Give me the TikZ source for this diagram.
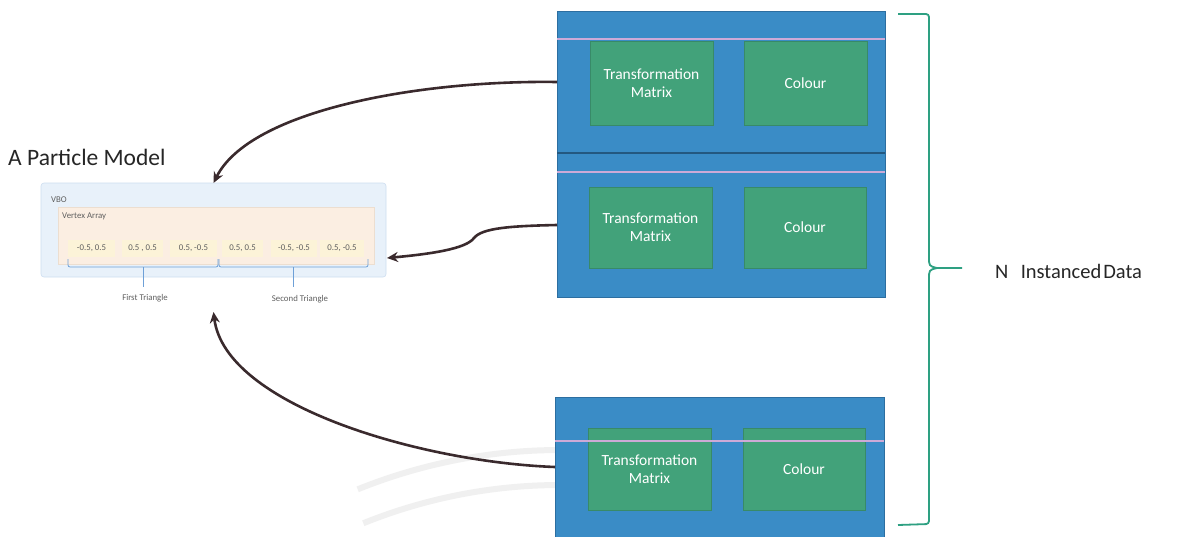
\documentclass[tikz,border=0pt]{standalone}
\usepackage{fontspec}
\setmainfont{Carlito}
\usetikzlibrary{arrows.meta,calc}

\definecolor{blkblue}{RGB}{58,140,198}
\definecolor{blkedge}{RGB}{44,110,160}
\definecolor{cellgreen}{RGB}{66,162,122}
\definecolor{stripe}{RGB}{205,170,215}
\definecolor{vboFill}{RGB}{232,241,250}
\definecolor{vboEdge}{RGB}{205,222,240}
\definecolor{arrFill}{RGB}{251,238,226}
\definecolor{arrEdge}{RGB}{236,222,208}
\definecolor{valFill}{RGB}{252,243,216}
\definecolor{smallText}{RGB}{95,95,95}
\definecolor{braceBlue}{RGB}{110,160,215}
\definecolor{braceTeal}{RGB}{46,160,130}
\definecolor{linkDark}{RGB}{58,42,45}

\tikzset{
  blueblk/.style={fill=blkblue, draw=blkedge, line width=0.6pt, inner sep=0pt, outer sep=0pt, anchor=north west},
  greenbox/.style={fill=cellgreen, draw=cellgreen!85!black, line width=0.4pt, inner sep=0pt, outer sep=0pt,
    anchor=north west, text=white, align=center, font=\fontsize{15.5}{18}\selectfont},
  valcell/.style={fill=valFill, inner sep=0pt, outer sep=0pt, anchor=north west,
    font=\fontsize{8.8}{10}\selectfont, text=smallText},
  tiny/.style={font=\fontsize{8.8}{10}\selectfont, text=smallText, inner sep=0pt},
  link/.style={draw=linkDark, line width=2.6pt, -{Stealth[length=11pt,width=10pt]}},
  stripeline/.style={draw=stripe, line width=1.2pt},
  emblemarc/.style={draw=gray!12, line width=6pt}
}

\begin{document}
\begin{tikzpicture}[x=1pt,y=-1pt]
\useasboundingbox[fill=white] (0,0) rectangle (1184,536);

% faint round emblem in the background
\begin{scope}
  \clip (0,0) rectangle (1184,536);
  \draw[emblemarc] (560,990) ++(-112:540) arc[start angle=-112, end angle=-68, radius=540];
  \draw[emblemarc] (560,1010) ++(-112:525) arc[start angle=-112, end angle=-68, radius=525];
\end{scope}

% ---- particle model (VBO with vertex array) ----
\node[anchor=west, inner sep=0pt, font=\fontsize{23.5}{27}\selectfont, text=black!85] (title) at (8,157) {A Particle Model};

\node[fill=vboFill, draw=vboEdge, rounded corners=3pt, line width=0.6pt, inner sep=0pt, outer sep=0pt,
      minimum width=345pt, minimum height=94pt, anchor=north west] (vbo) at (41,183) {};
\node[tiny, anchor=west] (vbolbl) at (51,200) {VBO};
\node[fill=arrFill, draw=arrEdge, line width=0.5pt, inner sep=0pt, outer sep=0pt,
      minimum width=316pt, minimum height=57pt, anchor=north west] (varr) at (58,207) {};
\node[tiny, anchor=west] (varrlbl) at (62,216) {Vertex Array};

\node[valcell, minimum width=47pt, minimum height=17pt] (v1) at (68,240)  {-0.5, 0.5};
\node[valcell, minimum width=41pt, minimum height=17pt] (v2) at (122,240) {0.5 , 0.5};
\node[valcell, minimum width=47pt, minimum height=17pt] (v3) at (170,240) {0.5, -0.5};
\node[valcell, minimum width=41pt, minimum height=17pt] (v4) at (222,240) {0.5, 0.5};
\node[valcell, minimum width=46pt, minimum height=17pt] (v5) at (271,240) {-0.5, -0.5};
\node[valcell, minimum width=44pt, minimum height=17pt] (v6) at (320,240) {0.5, -0.5};

% triangle brackets
\draw[braceBlue, line width=0.8pt, rounded corners=2pt] (68,259) -- (68,267) -- (218,267) -- (218,259);
\draw[braceBlue, line width=0.8pt, rounded corners=2pt] (219,259) -- (219,267) -- (368,267) -- (368,259);
\coordinate (t1) at (143,267);
\coordinate (t2) at (293,267);
\node[tiny] (tri1) at (145,298) {First Triangle};
\node[tiny] (tri2) at (300,299) {Second Triangle};
\draw[braceBlue, line width=0.8pt] (t1) -- (t1 |- 0,287);
\draw[braceBlue, line width=0.8pt] (t2) -- (t2 |- 0,287);

% ---- instanced data blocks ----
\node[blueblk, minimum width=328pt, minimum height=142pt] (b1) at (557,11) {};
\node[blueblk, minimum width=328pt, minimum height=144pt] (b2) at (557,153) {};
\node[blueblk, minimum width=329pt, minimum height=140pt] (b3) at (555,397) {};
\draw[blkedge!80!black, line width=1.4pt] (b2.north west) -- (b2.north east);

\node[greenbox, minimum width=123pt, minimum height=84pt] (m1) at (590,41)  {Transformation\\Matrix};
\node[greenbox, minimum width=123pt, minimum height=84pt] (c1) at (744,41)  {Colour};
\node[greenbox, minimum width=123pt, minimum height=81pt] (m2) at (589,187) {Transformation\\Matrix};
\node[greenbox, minimum width=122pt, minimum height=81pt] (c2) at (744,187) {Colour};
\node[greenbox, minimum width=123pt, minimum height=82pt] (m3) at (588,428) {Transformation\\Matrix};
\node[greenbox, minimum width=122pt, minimum height=82pt] (c3) at (743,428) {Colour};

\draw[stripeline] (b1.west |- 0,39)  -- (b1.east |- 0,39);
\draw[stripeline] (b2.west |- 0,172) -- (b2.east |- 0,172);
\draw[stripeline] (b3.west |- 0,441) -- (b3.east |- 0,441);

% ---- brace grouping the N instances ----
\coordinate (brTop) at (898,14);
\coordinate (brBot) at (898,525);
\coordinate (brTip) at (962,268);
\draw[braceTeal, line width=1.8pt, rounded corners=3pt] (brTop) -- (929,14) -- (929,258);
\draw[braceTeal, line width=1.8pt] (929,257) .. controls (929,266) .. (937,268) -- (brTip);
\draw[braceTeal, line width=1.8pt] (937,268) .. controls (929,270) .. (929,279);
\draw[braceTeal, line width=1.8pt, rounded corners=3pt] (929,278) -- (929,524) -- (brBot);
\node[anchor=west, inner sep=0pt, font=\fontsize{20.5}{24}\selectfont, text=black!85] (ninst) at (995,271)
  {N\hspace{0.6em}Instanced\hspace{0.1em}Data};

% ---- links back to the particle model ----
\coordinate (vboTop) at (vbo.north);
\coordinate (vboRight) at ($(vbo.east)+(1,28)$);
\coordinate (vboBelow) at ($(vbo.south)+(0,35)$);
\draw[link] (b1.west) .. controls (420,80) and (250,110) .. (vboTop);
\draw[link] (b2.west) .. controls (510,226) and (482,228) .. (474,238)
            .. controls (466,249) and (430,254) .. (vboRight);
\draw[link] (b3.west) .. controls (420,462) and (225,405) .. (vboBelow);

\end{tikzpicture}
\end{document}
